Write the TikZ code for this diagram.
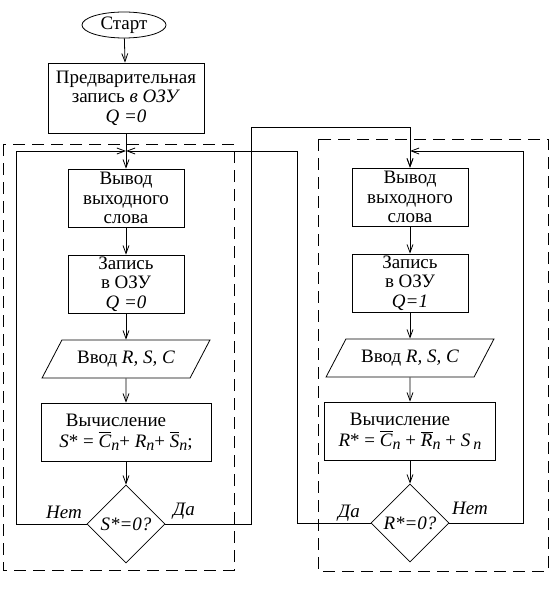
\documentclass[tikz,border=0pt]{standalone}
\usepackage{amsmath}
\usepackage{fontspec}
\setmainfont{Liberation Serif}
\usepackage{tikz}
\usetikzlibrary{shapes.geometric, arrows.meta}
\newcommand{\bigtxt}{\fontsize{19}{19.5}\selectfont}
\newcommand{\iv}[1]{\textit{#1}}
\newcommand{\lown}[1]{\raisebox{-2.5pt}{\fontsize{16}{16}\selectfont\iv{#1}}}
\newcommand{\bariv}[1]{$\overline{\mbox{\iv{#1}}}$}
\tikzstyle{term}=[draw, shape=ellipse, inner sep=0pt, minimum width=84pt, minimum height=26pt]
\tikzstyle{blk}=[draw, shape=rectangle, inner sep=0pt, align=center, minimum width=116pt, minimum height=58pt]
\tikzstyle{inp}=[draw, shape=trapezium, trapezium left angle=47, trapezium right angle=133, trapezium stretches, inner sep=0pt, minimum width=168pt, minimum height=38pt]
\tikzstyle{dsn}=[draw, shape=diamond, inner sep=0pt, minimum width=78pt, minimum height=78pt, font=\bigtxt\itshape]
\tikzstyle{lbl}=[inner sep=0pt, font=\bigtxt\itshape]
\tikzstyle{frame}=[dash pattern=on 12pt off 7pt]
\tikzset{>={Straight Barb[length=8pt, width=6pt]}}

\begin{document}
\begin{tikzpicture}[x=1pt, y=-1pt, line width=0.8pt, font=\bigtxt]
\useasboundingbox (0,0) rectangle (558,604);
% the start and the preliminary write
\node[term] (St) at (124,25) {Старт};
\node[blk, minimum width=156pt, minimum height=70pt] (P) at (126,98) {Предварительная\\ запись \iv{в ОЗУ}\\ \iv{Q =0}};
% the ``left'' column, Q = 0
\node[blk] (L1) at (126,198) {Вывод\\ выходного\\ слова};
\node[blk] (L2) at (126,284) {Запись\\ в ОЗУ\\ \iv{Q =0}};
\node[inp] (L3) at (126,359) {Ввод \iv{R, S, C}};
\node[blk, minimum width=170pt] (L4) at (126,432) {Вычисление\hspace*{20pt}\\[2pt] \iv{S}* = \bariv{C}\lown{n}+ \iv{R}\lown{n}+ \bariv{S}\lown{n};};
\node[dsn] (L5) at (126,524) {S*=0?};
% the ``right'' column, Q = 1
\node[blk] (R1) at (410,197) {Вывод\\ выходного\\ слова};
\node[blk] (R2) at (410,283) {Запись\\ в ОЗУ\\ \iv{Q=1}};
\node[inp] (R3) at (410,358) {Ввод \iv{R, S, C}};
\node[blk, minimum width=171pt] (R4) at (410,431) {Вычисление\hspace*{20pt}\\[2pt] \iv{R}* = \bariv{C}\lown{n} + \bariv{R}\lown{n} + \iv{S}\,\lown{n}};
\node[dsn] (R5) at (410,523) {R*=0?};
% the branch labels
\node[lbl] (nL) at (64,512) {Нет};
\node[lbl] (yL) at (184,511) {Да};
\node[lbl] (yR) at (349,513) {Да};
\node[lbl] (nR) at (470,508) {Нет};
% the junctions and corners
\coordinate (JL) at (126,151);
\coordinate (JR) at (410,151);
\coordinate (KL) at (16,151);
\coordinate (KS) at (251,127);
\coordinate (KD) at (297,151);
\coordinate (KR) at (523,151);
% the edges
\draw[->] (St) -- (P);
\draw (P) -- (JL);
\draw[->] (JL) -- (L1);
\draw[->] (L1) -- (L2);
\draw[->] (L2) -- (L3);
\draw[->] (L3) -- (L4);
\draw[->] (L4) -- (L5);
\draw[->] (JR) -- (R1);
\draw[->] (R1) -- (R2);
\draw[->] (R2) -- (R3);
\draw[->] (R3) -- (R4);
\draw[->] (R4) -- (R5);
% the loops
\draw[->] (L5.west) -| (KL) -- (JL);
\draw[->] (L5.east) -| (KS) -| (R1);
\draw[->] (R5.west) -| (KD) -- (JL);
\draw[->] (R5.east) -| (KR) -- (JR);
% the dashed frames
\draw[frame] (3,144) rectangle (234,570);
\draw[frame] (318,139) rectangle (548,571);
\end{tikzpicture}
\end{document}
